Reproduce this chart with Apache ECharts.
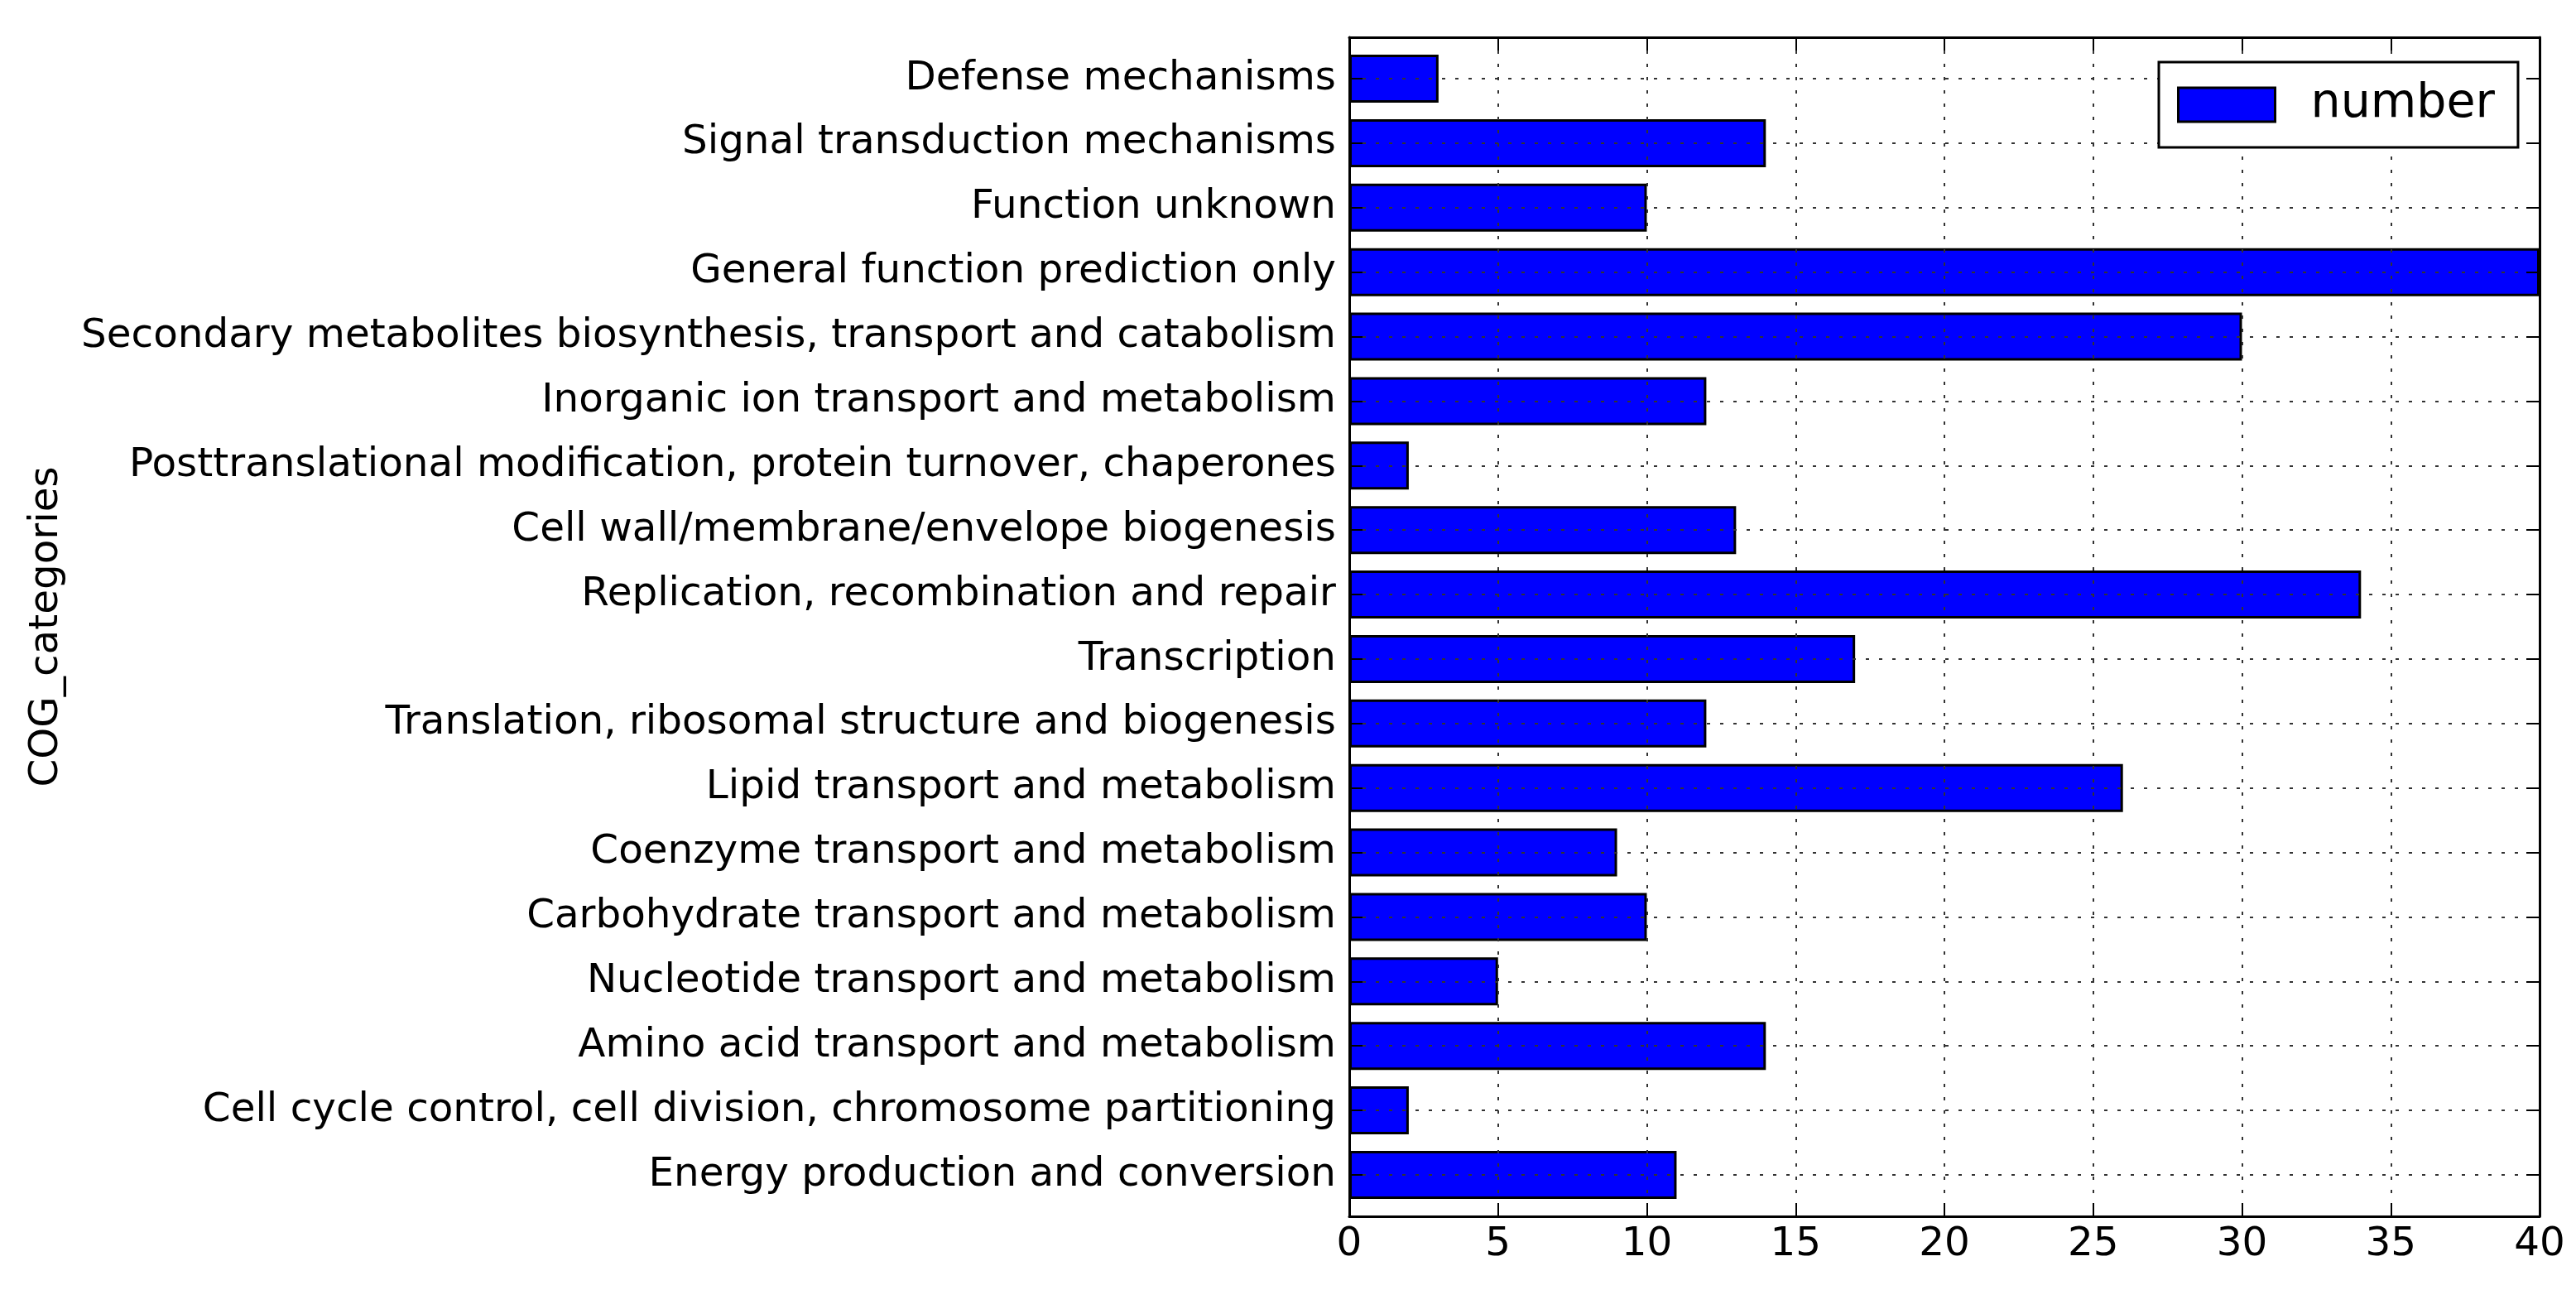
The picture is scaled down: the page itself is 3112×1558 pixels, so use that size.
<!DOCTYPE html>
<html>
<head>
<meta charset="utf-8">
<script src="https://cdn.jsdelivr.net/npm/echarts@6/dist/echarts.min.js"></script>
<style>
  html, body { margin: 0; padding: 0; background: #fff; }
  #chart { width: 3112px; height: 1558px; }
</style>
</head>
<body>
<div id="chart"></div>
<script>
// Categories listed top to bottom as in the chart
const categories = [
  "Defense mechanisms",
  "Signal transduction mechanisms",
  "Function unknown",
  "General function prediction only",
  "Secondary metabolites biosynthesis, transport and catabolism",
  "Inorganic ion transport and metabolism",
  "Posttranslational modification, protein turnover, chaperones",
  "Cell wall/membrane/envelope biogenesis",
  "Replication, recombination and repair",
  "Transcription",
  "Translation, ribosomal structure and biogenesis",
  "Lipid transport and metabolism",
  "Coenzyme transport and metabolism",
  "Carbohydrate transport and metabolism",
  "Nucleotide transport and metabolism",
  "Amino acid transport and metabolism",
  "Cell cycle control, cell division, chromosome partitioning",
  "Energy production and conversion"
];
const numberValues = [3, 14, 10, 40, 30, 12, 2, 13, 34, 17, 12, 26, 9, 10, 5, 14, 2, 11];
const xTicks = { min: 0, max: 40, interval: 5 };
const seriesName = "number";
const yAxisTitle = "COG_categories";

const FONT = "DejaVu Sans";
const dotted = { color: "#333", width: 2, type: [4, 12] };

const chart = echarts.init(document.getElementById("chart"), null, { renderer: "canvas" });

const frame = { left: 1630, top: 45, width: 1438, height: 1424 };
const inner = { left: 1630, top: 95, width: 1438, height: 1324 };

const option = {
  backgroundColor: "#fff",
  animation: false,
  textStyle: { fontFamily: FONT },
  grid: [
    { left: frame.left, top: frame.top, width: frame.width, height: frame.height, containLabel: false },
    { left: inner.left, top: inner.top, width: inner.width, height: inner.height, containLabel: false }
  ],
  xAxis: [
    { // bottom axis with labels
      type: "value", gridIndex: 0, position: "bottom", z: 3,
      min: xTicks.min, max: xTicks.max, interval: xTicks.interval,
      axisLine: { show: true, onZero: false, lineStyle: { color: "#000", width: 3 } },
      axisTick: { show: true, inside: true, length: 16, lineStyle: { color: "#000", width: 2 } },
      axisLabel: { show: true, fontSize: 48.4, color: "#000", margin: 10, fontFamily: FONT },
      splitLine: { show: true, lineStyle: dotted }
    },
    { // top axis, ticks only
      type: "value", gridIndex: 0, position: "top", z: 3,
      min: xTicks.min, max: xTicks.max, interval: xTicks.interval,
      axisLine: { show: true, onZero: false, lineStyle: { color: "#000", width: 3 } },
      axisTick: { show: true, inside: true, length: 16, lineStyle: { color: "#000", width: 2 } },
      axisLabel: { show: false },
      splitLine: { show: false }
    },
    { // value axis for bars
      type: "value", gridIndex: 1, position: "bottom",
      min: xTicks.min, max: xTicks.max, interval: xTicks.interval,
      axisLine: { show: false }, axisTick: { show: false }, axisLabel: { show: false },
      splitLine: { show: false }
    }
  ],
  yAxis: [
    { // left frame line + axis title
      type: "value", gridIndex: 0, position: "left", min: 0, max: 1, z: 3,
      name: yAxisTitle, nameLocation: "middle", nameRotate: 90, nameGap: 1550,
      nameTextStyle: { fontSize: 48.4, color: "#000", fontFamily: FONT },
      axisLine: { show: true, onZero: false, lineStyle: { color: "#000", width: 3 } },
      axisTick: { show: false }, axisLabel: { show: false }, splitLine: { show: false }
    },
    { // right frame line
      type: "value", gridIndex: 0, position: "right", min: 0, max: 1, z: 3,
      axisLine: { show: true, onZero: false, lineStyle: { color: "#000", width: 3 } },
      axisTick: { show: false }, axisLabel: { show: false }, splitLine: { show: false }
    },
    { // category axis: labels, ticks, horizontal grid
      type: "category", gridIndex: 1, position: "left", inverse: true, boundaryGap: false, z: 3,
      data: categories,
      axisLine: { show: false },
      axisTick: { show: true, inside: true, length: 16, interval: 0, lineStyle: { color: "#000", width: 2 } },
      axisLabel: { show: true, interval: 0, fontSize: 48.4, color: "#000", margin: 16, fontFamily: FONT },
      splitLine: { show: true, interval: 0, lineStyle: dotted }
    },
    { // right category ticks
      type: "category", gridIndex: 1, position: "right", inverse: true, boundaryGap: false, z: 3,
      data: categories,
      axisLine: { show: false },
      axisTick: { show: true, inside: true, length: 16, interval: 0, lineStyle: { color: "#000", width: 2 } },
      axisLabel: { show: false },
      splitLine: { show: false }
    }
  ],
  legend: {
    show: true,
    left: 2608, top: 75,
    orient: "horizontal",
    padding: [23, 28, 23, 22],
    backgroundColor: "#fff",
    borderColor: "#000",
    borderWidth: 3,
    borderRadius: 0,
    itemWidth: 117,
    itemHeight: 41,
    icon: "rect",
    itemStyle: { color: "#0000ff", borderColor: "#000", borderWidth: 3 },
    textStyle: { fontSize: 57, color: "#000", fontFamily: FONT, lineHeight: 41, padding: [0, 0, 0, 38] },
    data: [seriesName]
  },
  series: [
    {
      name: seriesName,
      type: "bar",
      xAxisIndex: 2,
      yAxisIndex: 2,
      data: numberValues,
      barWidth: 58,
      clip: false,
      z: 1,
      itemStyle: { color: "#0000ff", borderColor: "#000", borderWidth: 3 }
    }
  ]
};

chart.setOption(option);
</script>
</body>
</html>
